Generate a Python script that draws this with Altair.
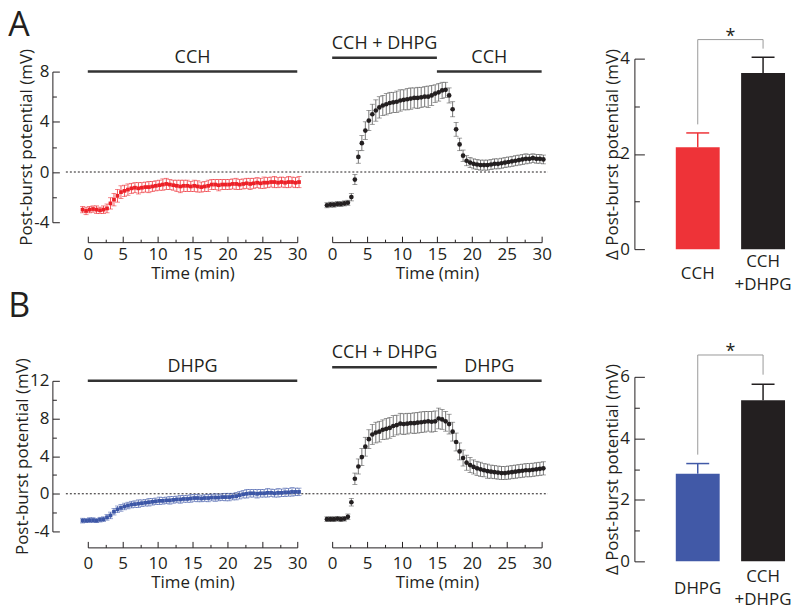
import altair as alt
import pandas as pd

FONT = "Open Sans"
INK = "#231f20"
RED = "#ec2027"
RED_BAR = "#ee3338"
BLUE = "#3c56a6"
BLUE_BAR = "#4159a7"
BRACKET = "#9a9a9a"
MID_ERR = "#4a4a4a"

# sampling grid (min)
TIME = [round(-0.75 + 0.5 * k, 2) for k in range(63)]

# ---- Panel A, left: CCH (red) ----
CCH_MEAN = [-3.0, -3.1, -3.0, -2.95, -3.0, -3.05, -3.0,
            -2.9, -2.5, -2.2, -1.9, -1.6, -1.5, -1.4,
            -1.3, -1.25, -1.3, -1.25, -1.2, -1.2, -1.15,
            -1.1, -1.05, -1.0, -0.95, -1.0, -1.05, -1.1,
            -1.15, -1.1, -1.1, -1.15, -1.1, -1.15, -1.2,
            -1.15, -1.1, -1.0, -1.0, -1.05, -1.0, -1.0,
            -1.0, -0.95, -0.95, -1.0, -0.95, -0.9, -0.95,
            -0.9, -0.85, -0.9, -0.85, -0.85, -0.8, -0.8,
            -0.85, -0.8, -0.85, -0.8, -0.8, -0.85, -0.8]
CCH_SEM = [0.25, 0.3, 0.25, 0.25, 0.3, 0.25, 0.3,
           0.35, 0.45, 0.5, 0.5, 0.5, 0.45, 0.45,
           0.4, 0.4, 0.45, 0.4, 0.4, 0.45, 0.4,
           0.4, 0.4, 0.45, 0.45, 0.4, 0.4, 0.45,
           0.5, 0.45, 0.45, 0.4, 0.45, 0.45, 0.4,
           0.4, 0.45, 0.4, 0.4, 0.45, 0.4, 0.4,
           0.4, 0.4, 0.45, 0.4, 0.4, 0.4, 0.45,
           0.4, 0.4, 0.4, 0.45, 0.4, 0.4, 0.45,
           0.4, 0.4, 0.4, 0.45, 0.4, 0.4, 0.45]

# ---- Panel A, middle: CCH + DHPG then CCH (black) ----
CCHDHPG_A_MEAN = [-2.65, -2.6, -2.6, -2.55, -2.55, -2.5, -2.45,
                  -2.0, -0.6, 1.2, 2.3, 3.3, 4.1, 4.6,
                  4.9, 5.15, 5.3, 5.4, 5.5, 5.55, 5.6,
                  5.7, 5.75, 5.8, 5.85, 5.9, 5.9, 5.95,
                  6.0, 6.0, 6.1, 6.25, 6.35, 6.5, 6.55,
                  6.1, 5.0, 3.4, 2.2, 1.3, 0.9, 0.75,
                  0.65, 0.6, 0.55, 0.55, 0.55, 0.6, 0.65,
                  0.65, 0.7, 0.75, 0.8, 0.85, 0.9, 0.95,
                  1.0, 1.05, 1.05, 1.1, 1.05, 1.05, 1.0]
CCHDHPG_A_SEM = [0.2, 0.2, 0.2, 0.2, 0.2, 0.2, 0.2,
                 0.3, 0.4, 0.5, 0.6, 0.7, 0.8, 0.8,
                 0.85, 0.85, 0.8, 0.85, 0.85, 0.8, 0.85,
                 0.85, 0.8, 0.85, 0.85, 0.8, 0.85, 0.8,
                 0.8, 0.85, 0.8, 0.7, 0.7, 0.65, 0.6,
                 0.6, 0.6, 0.55, 0.5, 0.45, 0.4, 0.4,
                 0.4, 0.4, 0.4, 0.4, 0.4, 0.4, 0.4,
                 0.4, 0.4, 0.4, 0.4, 0.4, 0.4, 0.4,
                 0.4, 0.4, 0.35, 0.35, 0.35, 0.35, 0.35]

# ---- Panel B, left: DHPG (blue) ----
DHPG_MEAN = [-2.85, -2.85, -2.8, -2.8, -2.85, -2.75, -2.7,
             -2.5, -2.3, -1.9, -1.65, -1.5, -1.35, -1.25,
             -1.15, -1.1, -1.05, -1.0, -0.95, -0.9, -0.85,
             -0.8, -0.75, -0.75, -0.7, -0.7, -0.65, -0.6,
             -0.6, -0.55, -0.55, -0.5, -0.45, -0.45, -0.5,
             -0.45, -0.45, -0.4, -0.4, -0.4, -0.35, -0.35,
             -0.35, -0.3, -0.25, -0.15, -0.05, 0.0, 0.05,
             0.05, 0.0, 0.05, 0.05, 0.1, 0.1, 0.05,
             0.1, 0.1, 0.15, 0.15, 0.2, 0.2, 0.2]
DHPG_SEM = [0.25, 0.2, 0.25, 0.25, 0.2, 0.25, 0.25,
            0.3, 0.35, 0.35, 0.35, 0.35, 0.35, 0.35,
            0.35, 0.35, 0.4, 0.35, 0.35, 0.4, 0.35,
            0.35, 0.4, 0.35, 0.35, 0.4, 0.35, 0.35,
            0.4, 0.35, 0.35, 0.4, 0.35, 0.4, 0.35,
            0.35, 0.4, 0.35, 0.4, 0.35, 0.35, 0.4,
            0.4, 0.35, 0.4, 0.4, 0.4, 0.45, 0.4,
            0.4, 0.45, 0.4, 0.4, 0.45, 0.4, 0.4,
            0.45, 0.4, 0.45, 0.4, 0.45, 0.4, 0.4]

# ---- Panel B, middle: CCH + DHPG then DHPG (black) ----
CCHDHPG_B_MEAN = [-2.7, -2.7, -2.7, -2.65, -2.7, -2.65, -2.45,
                  -0.9, 1.6, 2.9, 3.9, 5.0, 5.8, 6.3,
                  6.5, 6.6, 6.8, 6.9, 7.0, 7.2, 7.3,
                  7.45, 7.4, 7.45, 7.5, 7.5, 7.55, 7.6,
                  7.65, 7.7, 7.65, 7.7, 8.0, 7.9, 7.7,
                  7.4, 6.6, 5.5, 4.5, 3.8, 3.3, 3.05,
                  2.85, 2.7, 2.6, 2.5, 2.4, 2.35, 2.3,
                  2.25, 2.2, 2.2, 2.25, 2.3, 2.35, 2.4,
                  2.45, 2.5, 2.5, 2.55, 2.6, 2.65, 2.7]
CCHDHPG_B_SEM = [0.25, 0.25, 0.25, 0.25, 0.25, 0.25, 0.3,
                 0.4, 0.6, 0.8, 0.9, 1.0, 1.0, 1.05,
                 1.1, 1.1, 1.05, 1.1, 1.1, 1.1, 1.05,
                 1.1, 1.1, 1.1, 1.05, 1.1, 1.1, 1.1,
                 1.1, 1.05, 1.1, 1.1, 1.1, 1.05, 1.05,
                 1.05, 1.0, 0.95, 0.9, 0.85, 0.8, 0.8,
                 0.75, 0.75, 0.75, 0.7, 0.75, 0.7, 0.7,
                 0.7, 0.7, 0.7, 0.7, 0.7, 0.7, 0.7,
                 0.7, 0.7, 0.7, 0.7, 0.7, 0.7, 0.7]

# ---- Bar charts ----
BAR_A_CATS = ["CCH", "CCH +DHPG"]
BAR_A_MEAN = [2.14, 3.70]
BAR_A_SEM = [0.30, 0.33]
BAR_A_BRACKET = {"top": 4.40, "bottoms": [2.62, 4.21]}

BAR_B_CATS = ["DHPG", "CCH +DHPG"]
BAR_B_MEAN = [2.85, 5.24]
BAR_B_SEM = [0.33, 0.52]
BAR_B_BRACKET = {"top": 6.71, "bottoms": [3.47, 6.07]}

# condition bars: label, start, end, level (mV)
COND_A_LEFT = [("CCH", 0, 30, 8.0)]
COND_A_MID = [("CCH + DHPG", 0, 15, 9.11), ("CCH", 15, 30, 8.0)]
COND_B_LEFT = [("DHPG", 0, 30, 12.0)]
COND_B_MID = [("CCH + DHPG", 0, 15, 13.45), ("DHPG", 15, 30, 12.0)]


def time_axis(offset, label_pad, title_pad):
    return alt.Axis(
        values=[0, 2.5, 5, 7.5, 10, 12.5, 15, 17.5, 20, 22.5, 25, 27.5, 30],
        labelExpr="datum.value % 5 === 0 ? '' + datum.value : ''",
        tickSize={"condition": {"test": "datum.value % 5 === 0", "value": -6}, "value": -3},
        labelPadding=label_pad, offset=offset, title="Time (min)", titlePadding=title_pad,
    )


def mv_axis(values, label_step):
    return alt.Axis(
        values=values,
        labelExpr=f"datum.value % {label_step} === 0 ? '' + datum.value : ''",
        tickSize={"condition": {"test": f"datum.value % {label_step} === 0", "value": -7}, "value": -4},
        labelPadding=10.5, offset=35.5, title="Post-burst potential (mV)", titlePadding=-2,
    )


def time_panel(means, sems, color, err_color, shape, size, conds, y_domain, y_range,
               height, width, y_axis, x_axis, zero_span, letter=None):
    xs = alt.Scale(domain=[0, 30], range=[0, 210], nice=False, zero=False)
    ys = alt.Scale(domain=y_domain, range=y_range, nice=False, zero=False)

    def X(f):
        return alt.X(f, type="quantitative", scale=xs, axis=x_axis)

    def Y(f):
        return alt.Y(f, type="quantitative", scale=ys, axis=y_axis)

    df = pd.DataFrame({"t": TIME, "m": means, "s": sems})
    df["lo"] = df["m"] - df["s"]
    df["hi"] = df["m"] + df["s"]
    base = alt.Chart(df)
    err = base.mark_rule(color=err_color, strokeWidth=0.75).encode(x=X("t"), y=Y("lo"), y2="hi:Q")
    cap_hi = base.mark_tick(color=err_color, orient="horizontal", size=5, thickness=0.75).encode(
        x=X("t"), y=Y("hi"))
    cap_lo = base.mark_tick(color=err_color, orient="horizontal", size=5, thickness=0.75).encode(
        x=X("t"), y=Y("lo"))
    pts = base.mark_point(shape=shape, filled=True, size=size, color=color, opacity=1).encode(
        x=X("t"), y=Y("m"))
    zdf = pd.DataFrame({"a": [zero_span[0]], "b": [zero_span[1]], "y": [0]})
    zero = alt.Chart(zdf).mark_rule(strokeDash=[2, 2], color=INK, strokeWidth=1).encode(
        x=X("a"), x2="b:Q", y=Y("y"))
    cdf = pd.DataFrame(conds, columns=["label", "start", "end", "level"])
    cdf["mid"] = (cdf["start"] + cdf["end"]) / 2
    cbar = alt.Chart(cdf).mark_rule(color="#333333", strokeWidth=2.5).encode(
        x=X("start"), x2="end:Q", y=Y("level"))
    ctext = alt.Chart(cdf).mark_text(font=FONT, fontSize=18, color=INK, baseline="middle", dy=-14).encode(
        x=X("mid"), y=Y("level"), text="label:N")
    layers = [zero, cbar, ctext, err, cap_hi, cap_lo, pts]
    if letter is not None:
        ldf = pd.DataFrame({"x": [letter[1]], "y": [letter[2]], "label": [letter[0]]})
        layers.append(alt.Chart(ldf).mark_text(font=FONT, fontSize=34, color=INK, align="left",
                                               baseline="alphabetic").encode(
            x=X("x"), y=Y("y"), text="label:N"))
    return alt.layer(*layers).properties(width=width, height=height)


def bar_panel(cats, means, sems, colors, bracket, y_max, y_values, height, pad_one, pad_two):
    xs = alt.Scale(domain=cats, paddingInner=0.328, paddingOuter=0.332, align=0.954)
    ys = alt.Scale(domain=[0, y_max], nice=False, zero=True)
    xaxis = alt.Axis(title=None, domain=False, ticks=False, tickSize=0, labelAngle=0,
                     labelExpr="split(datum.label, ' ')", labelBaseline="middle",
                     labelLineHeight=23,
                     labelPadding={"condition": {"test": "indexof(datum.label, ' ') >= 0",
                                                 "value": pad_two}, "value": pad_one},
                     labelFontSize=17)
    yaxis = alt.Axis(values=y_values,
                     labelExpr="datum.value % 2 === 0 ? '' + datum.value : ''",
                     tickSize={"condition": {"test": "datum.value % 2 === 0", "value": -10}, "value": -5},
                     labelPadding=15, title="Δ Post-burst potential (mV)", titlePadding=-2)

    def X(f):
        return alt.X(f, type="nominal", scale=xs, axis=xaxis, sort=cats)

    def Y(f):
        return alt.Y(f, type="quantitative", scale=ys, axis=yaxis)

    df = pd.DataFrame({"cat": cats, "m": means, "s": sems, "col": colors})
    df["hi"] = df["m"] + df["s"]
    col = alt.Color("col:N", scale=None)
    base = alt.Chart(df)
    bars = base.mark_bar().encode(x=X("cat"), y=Y("m"), color=col)
    err = base.mark_rule(strokeWidth=1.5).encode(x=X("cat"), y=Y("m"), y2="hi:Q", color=col)
    cap = base.mark_tick(size=23, thickness=1.5, opacity=1).encode(x=X("cat"), y=Y("hi"), color=col)
    bdf = pd.DataFrame({"cat": cats, "bottom": bracket["bottoms"],
                        "top": [bracket["top"]] * len(cats)})
    legs = alt.Chart(bdf).mark_rule(color=BRACKET, strokeWidth=1).encode(
        x=X("cat"), y=Y("bottom"), y2="top:Q")
    across = alt.Chart(bdf).mark_line(color=BRACKET, strokeWidth=1).encode(x=X("cat"), y=Y("top"))
    sdf = pd.DataFrame({"cat": [cats[0]], "y": [bracket["top"]], "label": ["*"]})
    star = alt.Chart(sdf).mark_text(font=FONT, fontSize=18, color=INK, baseline="alphabetic",
                                    dx=32.75, dy=2).encode(x=X("cat"), y=Y("y"), text="label:N")
    return alt.layer(bars, err, cap, legs, across, star).properties(width=153, height=height)


TOP_X = time_axis(-7, 10, 0)
BOT_X = time_axis(-14, 14, 0)

TL = time_panel(CCH_MEAN, CCH_SEM, RED, RED, "square", 14, COND_A_LEFT,
                [-4, 8], [164, 13], 191, 210, mv_axis([-4, -2, 0, 2, 4, 6, 8], 4), TOP_X,
                [-3.14, 31.6], letter=("A", -11.4, 10.86))
TM = time_panel(CCHDHPG_A_MEAN, CCHDHPG_A_SEM, INK, MID_ERR, "circle", 22, COND_A_MID,
                [-4, 8], [164, 13], 191, 268, None, TOP_X, [-3.4, 30.9])
TR = bar_panel(BAR_A_CATS, BAR_A_MEAN, BAR_A_SEM, [RED_BAR, INK], BAR_A_BRACKET, 4,
               [0, 1, 2, 3, 4], 191, 24, 12)

BL = time_panel(DHPG_MEAN, DHPG_SEM, BLUE, BLUE, "square", 14, COND_B_LEFT,
                [-4, 12], [155, 4], 185, 210,
                mv_axis([-4, -2, 0, 2, 4, 6, 8, 10, 12], 4), BOT_X,
                [-3.14, 31.6], letter=("B", -11.4, 18.78))
BM = time_panel(CCHDHPG_B_MEAN, CCHDHPG_B_SEM, INK, MID_ERR, "circle", 22, COND_B_MID,
                [-4, 12], [155, 4], 185, 268, None, BOT_X, [-3.4, 30.9])
BR = bar_panel(BAR_B_CATS, BAR_B_MEAN, BAR_B_SEM, [BLUE_BAR, INK], BAR_B_BRACKET, 6,
               [0, 1, 2, 3, 4, 5, 6], 185, 27, 15.5)

chart = alt.concat(TL, TM, TR, BL, BM, BR, columns=3,
                   spacing={"row": 128, "column": 35}, bounds="flush", align="each").properties(
    padding=0
).configure_view(stroke=None).configure_axis(
    labelFont=FONT, titleFont=FONT, labelFontSize=17, titleFontSize=17,
    titleFontWeight="normal", labelColor=INK, titleColor=INK,
    domainColor=INK, tickColor=INK, domainWidth=1, tickWidth=1,
    grid=False, labelOverlap=False, labelFlush=False
)

chart.save("out.html", embed_options={"renderer": "svg", "actions": False})
